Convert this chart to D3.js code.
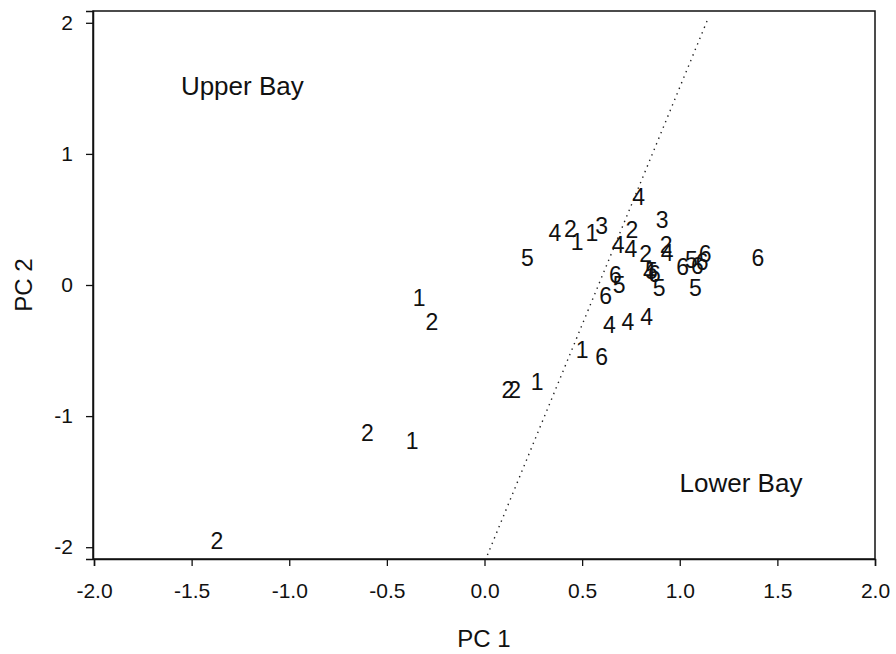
<!DOCTYPE html>
<html>
<head>
<meta charset="utf-8">
<script src="https://cdn.jsdelivr.net/npm/d3@7/dist/d3.min.js"></script>
<style>
  html, body { margin: 0; padding: 0; background: #fff; }
  svg { display: block; font-family: "Liberation Sans", Arial, sans-serif; }
</style>
</head>
<body>
<svg id="chart" width="896" height="654"></svg>
<script>
// Data: group labels and PC scores
const labels = ["2","2","1","1","2","2","2","1","1","6","4","4","4","6","6","5",
                "5","4","2","1","1","3","4","3","2","4","4","2","2","4",
                "4","5","6","5",
                "6","5","6","6","6","5","6"];
const pc1 = [-1.37,-0.60,-0.37,-0.335,-0.27,0.12,0.155,0.27,0.50,0.60,0.64,0.735,0.83,0.62,0.67,0.69,
             0.22,0.36,0.44,0.475,0.55,0.60,0.79,0.91,0.755,0.685,0.75,0.825,0.93,0.935,
             0.845,0.855,0.87,0.895,
             1.015,1.06,1.09,1.115,1.13,1.08,1.40];
const pc2 = [-1.95,-1.13,-1.19,-0.10,-0.28,-0.80,-0.80,-0.74,-0.49,-0.55,-0.305,-0.28,-0.24,-0.085,0.075,0.0,
             0.21,0.40,0.43,0.33,0.40,0.45,0.67,0.50,0.42,0.31,0.275,0.24,0.31,0.25,
             0.105,0.11,0.085,-0.02,
             0.14,0.19,0.145,0.18,0.24,-0.02,0.205];
const xTicks = [-2.0,-1.5,-1.0,-0.5,0.0,0.5,1.0,1.5,2.0];
const yTicks = [-2,-1,0,1,2];
const dividerX = [0.015, 1.147];
const dividerY = [-2.06, 2.04];
const regionNames = ["Upper Bay","Lower Bay"];
const regionX = [-1.555, 0.999];
const regionY = [1.45, -1.58];

const svg = d3.select("#chart");
const L = 93, R = 875, T = 11, B = 559;
const x = d3.scaleLinear().domain([-2, 2]).range([94, 875]);
const y = d3.scaleLinear().domain([-2.09, 2.09]).range([B, T]);

// frame
svg.append("rect").attr("x", L).attr("y", T).attr("width", R - L).attr("height", B - T)
  .attr("fill", "none").attr("stroke", "#111").attr("stroke-width", 1.5);

// x axis
const xa = svg.append("g").attr("transform", `translate(0,${B})`)
  .call(d3.axisBottom(x).tickValues(xTicks).tickSize(7).tickPadding(17).tickFormat(d => d.toFixed(1)));
xa.select(".domain").attr("stroke", "#111").attr("stroke-width", 1.5);
xa.selectAll(".tick line").attr("stroke", "#111").attr("stroke-width", 1.3);
xa.selectAll(".tick text").attr("font-size", 21).attr("fill", "#111")
  .attr("font-family", "Liberation Sans, Arial, sans-serif");

// y axis
const ya = svg.append("g").attr("transform", `translate(${L},0)`)
  .call(d3.axisLeft(y).tickValues(yTicks).tickSize(7).tickPadding(13).tickFormat(d => String(d)));
ya.select(".domain").attr("stroke", "#111").attr("stroke-width", 1.5);
ya.selectAll(".tick line").attr("stroke", "#111").attr("stroke-width", 1.3);
ya.selectAll(".tick text").attr("font-size", 21).attr("fill", "#111")
  .attr("font-family", "Liberation Sans, Arial, sans-serif");

// axis titles
svg.append("text").attr("x", 484).attr("y", 647).attr("text-anchor", "middle")
  .attr("font-size", 24).attr("fill", "#111").text("PC 1");
svg.append("text").attr("transform", `translate(32,${y(0)}) rotate(-90)`).attr("text-anchor", "middle")
  .attr("font-size", 24).attr("fill", "#111").text("PC 2");

// divider dotted line
svg.append("line")
  .attr("x1", x(dividerX[0])).attr("y1", y(dividerY[0]))
  .attr("x2", x(dividerX[1])).attr("y2", y(dividerY[1]))
  .attr("stroke", "#222").attr("stroke-width", 1.4)
  .attr("stroke-dasharray", "1.4,4.6");

// region labels
svg.selectAll("text.region").data(regionNames).join("text")
  .attr("class", "region")
  .attr("x", (d, i) => x(regionX[i])).attr("y", (d, i) => y(regionY[i]))
  .attr("font-size", 26).attr("fill", "#111").text(d => d);

// point labels
svg.selectAll("text.pt").data(labels).join("text")
  .attr("class", "pt")
  .attr("x", (d, i) => x(pc1[i])).attr("y", (d, i) => y(pc2[i]))
  .attr("dy", "0.36em").attr("text-anchor", "middle")
  .attr("font-size", 23).attr("fill", "#111").text(d => d);
</script>
</body>
</html>
